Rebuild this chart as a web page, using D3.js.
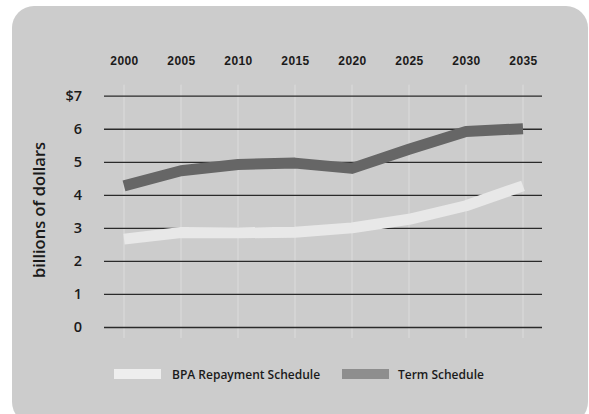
<!DOCTYPE html>
<html>
<head>
<meta charset="utf-8">
<script src="https://cdn.jsdelivr.net/npm/d3@7"></script>
<style>
  html, body { margin: 0; padding: 0; background: #ffffff; }
  svg { display: block; }
</style>
</head>
<body>
<svg id="chart" width="589" height="414"></svg>
<script>
// Projected debt repayment, billions of dollars
const years = [2000, 2005, 2010, 2015, 2020, 2025, 2030, 2035];
const bpaRepayment = [2.66, 2.86, 2.85, 2.87, 3.0, 3.26, 3.67, 4.27];
const termSchedule = [4.27, 4.73, 4.92, 4.96, 4.8, 5.38, 5.92, 6.0];
const yTicks = [0, 1, 2, 3, 4, 5, 6, 7];
const yTickLabels = ["0", "1", "2", "3", "4", "5", "6", "$7"];
const seriesNames = ["BPA Repayment Schedule", "Term Schedule"];

const svg = d3.select("#chart");

// Rounded grey panel
svg.append("rect")
  .attr("x", 12).attr("y", 6)
  .attr("width", 576).attr("height", 418)
  .attr("rx", 22).attr("ry", 22)
  .attr("fill", "#cccccc");

const x = d3.scaleLinear().domain([2000, 2035]).range([124, 523]);
const y = d3.scaleLinear().domain([0, 7]).range([327, 95.7]);

// Faint vertical guides at each year
svg.append("g").selectAll("line").data(years).join("line")
  .attr("x1", d => x(d)).attr("x2", d => x(d))
  .attr("y1", y(7) - 11).attr("y2", y(0) + 11)
  .attr("stroke", "#dcdcdc").attr("stroke-width", 1);

// Horizontal gridlines through the left axis
const yAxis = d3.axisLeft(y)
  .tickValues(yTicks)
  .tickFormat((d, i) => yTickLabels[i])
  .tickSize(-(x(2035) + 19 - (x(2000) - 20)))
  .tickPadding(22);
const gy = svg.append("g")
  .attr("transform", `translate(${x(2000) - 20},0)`)
  .call(yAxis);
gy.select(".domain").remove();
gy.selectAll(".tick line").attr("stroke", "#2a2a2a").attr("stroke-width", 1.3);
gy.selectAll(".tick text")
  .attr("font-family", "'Open Sans', 'Noto Sans', sans-serif")
  .attr("font-weight", 600)
  .attr("font-size", 14.5)
  .attr("fill", "#1a1a1a");

// Year labels on top
const xAxis = d3.axisTop(x).tickValues(years).tickFormat(d3.format("d")).tickSize(0).tickPadding(0);
const gx = svg.append("g").attr("transform", "translate(0,65)").call(xAxis);
gx.select(".domain").remove();
gx.selectAll(".tick text")
  .attr("font-family", "'Liberation Sans', Arial, sans-serif")
  .attr("font-weight", 700)
  .attr("font-size", 12)
  .attr("letter-spacing", 0.4)
  .attr("fill", "#1a1a1a");

// Axis title
svg.append("text")
  .attr("transform", "translate(45,210) rotate(-90)")
  .attr("text-anchor", "middle")
  .attr("font-family", "'Open Sans', 'Noto Sans', sans-serif")
  .attr("font-weight", 600)
  .attr("font-size", 16.5)
  .attr("fill", "#1a1a1a")
  .text("billions of dollars");

// Series lines
const line = d3.line().x((d, i) => x(years[i])).y(d => y(d));
svg.append("path").datum(termSchedule)
  .attr("d", line).attr("fill", "none")
  .attr("stroke", "#666666").attr("stroke-width", 11)
  .attr("stroke-linejoin", "round").attr("stroke-linecap", "butt");
svg.append("path").datum(bpaRepayment)
  .attr("d", line).attr("fill", "none")
  .attr("stroke", "#e8e8e8").attr("stroke-width", 11)
  .attr("stroke-linejoin", "round").attr("stroke-linecap", "butt");

// Legend
const legend = [
  { name: seriesNames[0], color: "#eeeeee", sx: 114, tx: 172 },
  { name: seriesNames[1], color: "#8e8e8e", sx: 342, tx: 398 }
];
const lg = svg.append("g").selectAll("g").data(legend).join("g");
lg.append("rect")
  .attr("x", d => d.sx).attr("y", 369)
  .attr("width", 47).attr("height", 10)
  .attr("fill", d => d.color);
lg.append("text")
  .attr("x", d => d.tx).attr("y", 379)
  .attr("font-family", "'Open Sans', 'Noto Sans', sans-serif")
  .attr("font-weight", 600)
  .attr("font-size", 12)
  .attr("fill", "#1a1a1a")
  .text(d => d.name);
</script>
</body>
</html>
